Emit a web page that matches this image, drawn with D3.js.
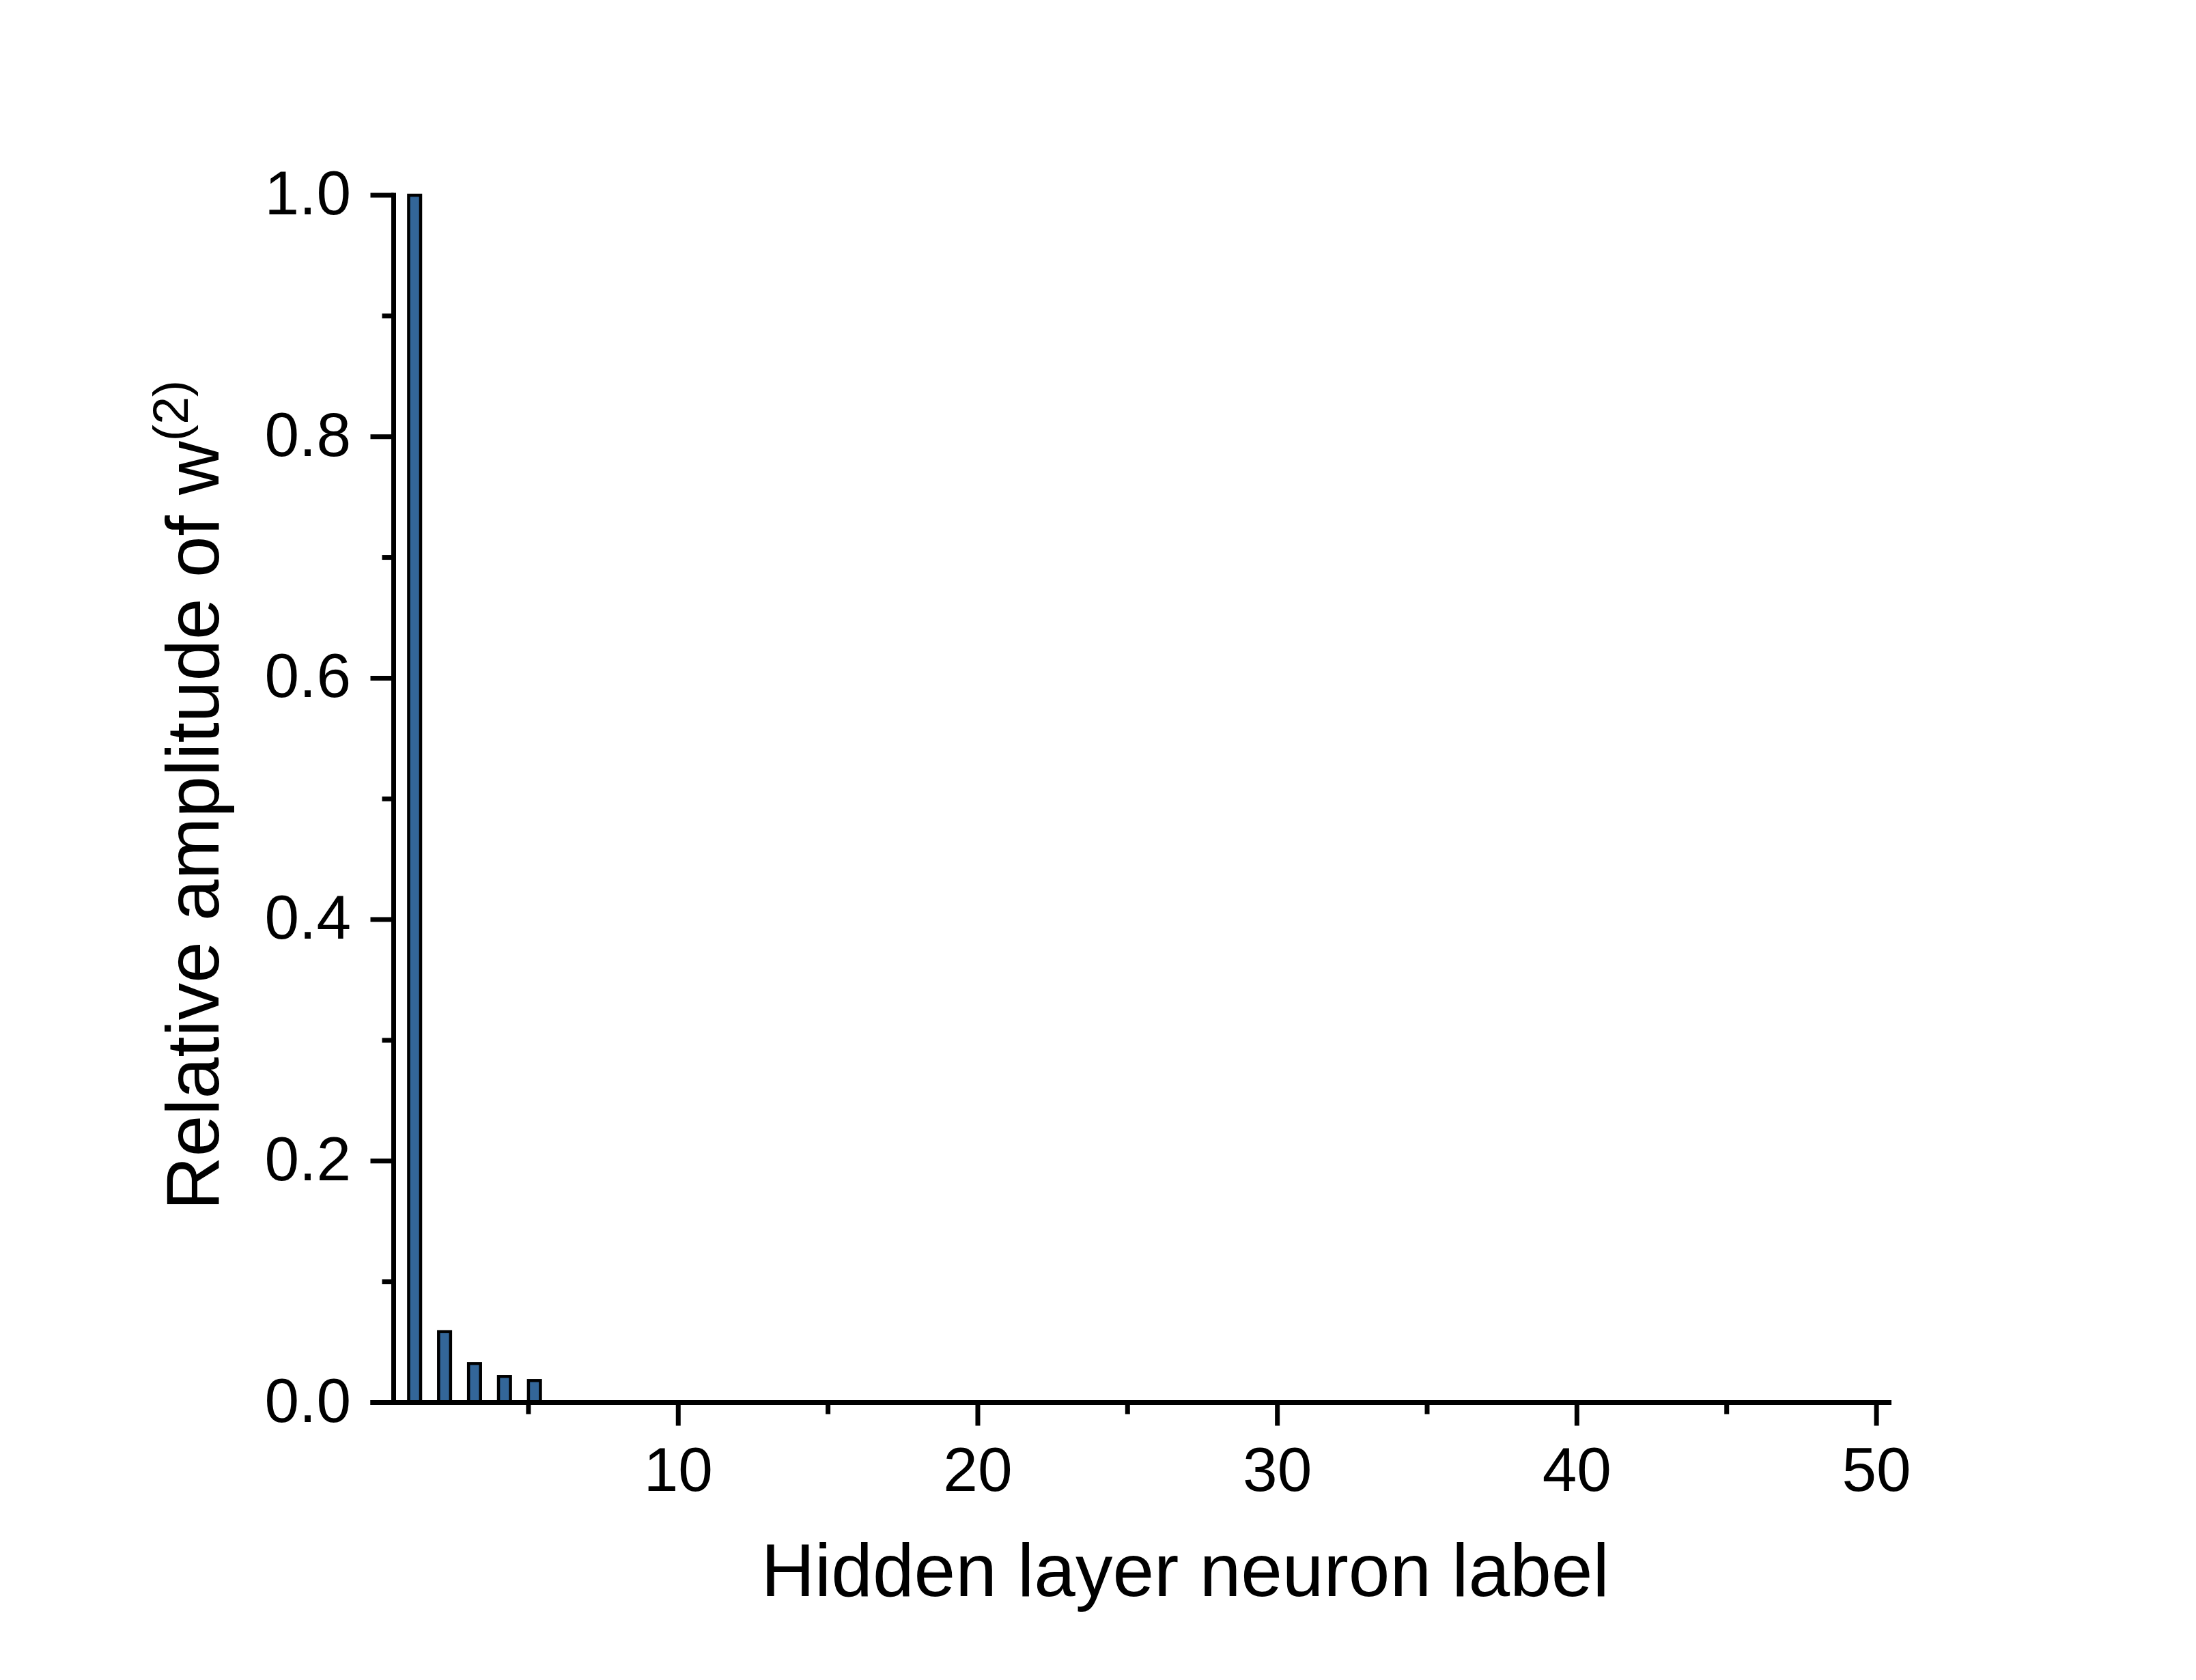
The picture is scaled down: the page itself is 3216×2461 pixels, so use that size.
<!DOCTYPE html>
<html>
<head>
<meta charset="utf-8">
<script src="https://cdn.jsdelivr.net/npm/d3@7"></script>
<style>
  body { margin: 0; background: #fff; }
  text { font-family: "Liberation Sans", Arial, sans-serif; fill: #000; }
</style>
</head>
<body>
<div class="chart"></div>
<script>
// data
const neuronLabels = [1, 2, 3, 4, 5];
const amplitudes = [1.0, 0.0587, 0.0323, 0.0216, 0.0182];
const xTickValues = [10, 20, 30, 40, 50];
const xMinorTicks = [5, 15, 25, 35, 45];
const yTickValues = [0, 0.2, 0.4, 0.6, 0.8, 1.0];
const yMinorTicks = [0.1, 0.3, 0.5, 0.7, 0.9];

const svg_width = 3216;
const svg_height = 2461;
const barColor = '#336699';
const axisStroke = 7;
const majorLen = 34;
const minorLen = 17;
const barWidthUnits = 0.4;

const svg = d3.select('.chart').append('svg')
    .attr('width', svg_width).attr('height', svg_height)
    .style('display', 'block');

svg.append('rect').attr('width', svg_width).attr('height', svg_height).attr('fill', '#fff');

const xScale = d3.scaleLinear([0.5, 50.5], [576.5, 2770]);
const yScale = d3.scaleLinear([0, 1], [2054.5, 286]);

// bars
svg.append('g').attr('class', 'bars')
    .selectAll('rect')
    .data(neuronLabels.map((n, i) => ({n: n, v: amplitudes[i]})))
    .join('rect')
    .attr('x', d => xScale(d.n))
    .attr('y', d => yScale(d.v))
    .attr('width', xScale(barWidthUnits) - xScale(0))
    .attr('height', d => yScale(0) - yScale(d.v))
    .attr('fill', barColor)
    .attr('stroke', '#000')
    .attr('stroke-width', 4.5);

// x axis
const xAxisG = svg.append('g').attr('class', 'x axis')
    .attr('transform', `translate(0,${yScale(0)})`);
xAxisG.append('line')
    .attr('x1', xScale.range()[0] - majorLen).attr('x2', xScale.range()[1])
    .attr('stroke', '#000').attr('stroke-width', axisStroke);
xAxisG.selectAll('.major').data(xTickValues).join('line')
    .attr('class', 'major')
    .attr('x1', d => xScale(d)).attr('x2', d => xScale(d))
    .attr('y1', 0).attr('y2', majorLen)
    .attr('stroke', '#000').attr('stroke-width', axisStroke);
xAxisG.selectAll('.minor').data(xMinorTicks).join('line')
    .attr('class', 'minor')
    .attr('x1', d => xScale(d)).attr('x2', d => xScale(d))
    .attr('y1', 0).attr('y2', minorLen)
    .attr('stroke', '#000').attr('stroke-width', axisStroke);
xAxisG.selectAll('.lbl').data(xTickValues).join('text')
    .attr('class', 'lbl')
    .attr('x', d => xScale(d)).attr('y', 2184 - yScale(0))
    .attr('text-anchor', 'middle')
    .style('font-size', '91px')
    .text(d => d);

// y axis
const yAxisG = svg.append('g').attr('class', 'y axis')
    .attr('transform', `translate(${xScale(0.5)},0)`);
yAxisG.append('line')
    .attr('y1', yScale(0)).attr('y2', yScale(1) - axisStroke / 2)
    .attr('stroke', '#000').attr('stroke-width', axisStroke);
yAxisG.selectAll('.major').data(yTickValues).join('line')
    .attr('class', 'major')
    .attr('y1', d => yScale(d)).attr('y2', d => yScale(d))
    .attr('x1', 0).attr('x2', -majorLen)
    .attr('stroke', '#000').attr('stroke-width', axisStroke);
yAxisG.selectAll('.minor').data(yMinorTicks).join('line')
    .attr('class', 'minor')
    .attr('y1', d => yScale(d)).attr('y2', d => yScale(d))
    .attr('x1', 0).attr('x2', -minorLen)
    .attr('stroke', '#000').attr('stroke-width', axisStroke);
yAxisG.selectAll('.lbl').data(yTickValues).join('text')
    .attr('class', 'lbl')
    .attr('x', 514 - xScale(0.5)).attr('y', d => yScale(d) + 28)
    .attr('text-anchor', 'end')
    .style('font-size', '91px')
    .text(d => d3.format('.1f')(d));

// axis titles
svg.append('text')
    .attr('x', 1735.5).attr('y', 2338)
    .attr('text-anchor', 'middle')
    .style('font-size', '109px')
    .text('Hidden layer neuron label');

const yTitle = svg.append('text')
    .attr('transform', 'translate(320,1165) rotate(-90)')
    .attr('text-anchor', 'middle')
    .style('font-size', '109px');
yTitle.append('tspan').text('Relative amplitude of w');
yTitle.append('tspan').attr('dy', -45).style('font-size', '73px').text('(2)');
</script>
</body>
</html>
